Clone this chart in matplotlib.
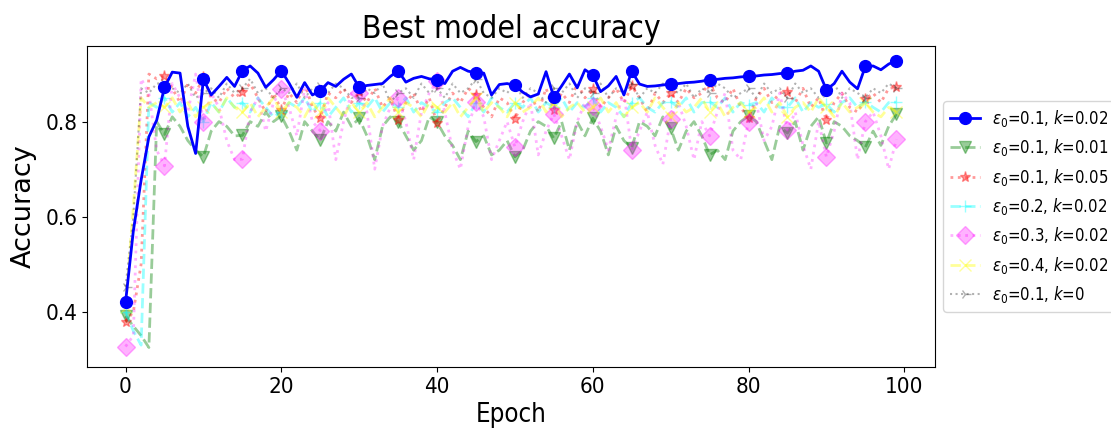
import matplotlib
matplotlib.use("Agg")
import matplotlib.pyplot as plt
import numpy as np

epochs = list(range(100))

blue = [0.420, 0.57, 0.677, 0.768, 0.803, 0.872, 0.904, 0.902, 0.790, 0.733,
        0.889, 0.856, 0.874, 0.893, 0.874, 0.907, 0.917, 0.902, 0.872, 0.888,
        0.907, 0.881, 0.851, 0.882, 0.856, 0.865, 0.882, 0.874, 0.889, 0.900,
        0.872, 0.876, 0.878, 0.880, 0.895, 0.907, 0.883, 0.891, 0.895, 0.890,
        0.888, 0.880, 0.906, 0.914, 0.906, 0.903, 0.902, 0.856, 0.878, 0.880,
        0.876, 0.862, 0.852, 0.858, 0.905, 0.851, 0.875, 0.900, 0.871, 0.909,
        0.898, 0.863, 0.875, 0.895, 0.856, 0.906, 0.879, 0.874, 0.875, 0.877,
        0.879, 0.880, 0.882, 0.883, 0.885, 0.888, 0.889, 0.891, 0.892, 0.894,
        0.895, 0.896, 0.898, 0.899, 0.901, 0.902, 0.906, 0.908, 0.917, 0.906,
        0.867, 0.880, 0.906, 0.883, 0.869, 0.916, 0.917, 0.909, 0.921, 0.928]

green = [0.391, 0.37, 0.35, 0.325, 0.80, 0.773, 0.81, 0.79, 0.76, 0.74,
         0.726, 0.78, 0.80, 0.79, 0.77, 0.771, 0.80, 0.79, 0.82, 0.80,
         0.812, 0.78, 0.74, 0.80, 0.78, 0.761, 0.80, 0.78, 0.82, 0.79,
         0.807, 0.77, 0.72, 0.79, 0.81, 0.800, 0.77, 0.74, 0.76, 0.81,
         0.799, 0.77, 0.75, 0.72, 0.78, 0.758, 0.77, 0.73, 0.74, 0.76,
         0.726, 0.74, 0.78, 0.80, 0.79, 0.765, 0.80, 0.74, 0.80, 0.77,
         0.807, 0.78, 0.73, 0.79, 0.76, 0.745, 0.80, 0.79, 0.77, 0.81,
         0.786, 0.74, 0.78, 0.80, 0.77, 0.730, 0.74, 0.72, 0.78, 0.80,
         0.812, 0.80, 0.76, 0.72, 0.79, 0.776, 0.80, 0.74, 0.79, 0.81,
         0.755, 0.80, 0.79, 0.77, 0.76, 0.746, 0.78, 0.75, 0.79, 0.816]

red = [0.379, 0.40, 0.50, 0.90, 0.89, 0.896, 0.87, 0.84, 0.88, 0.86,
       0.893, 0.85, 0.84, 0.87, 0.85, 0.863, 0.88, 0.85, 0.82, 0.86,
       0.825, 0.86, 0.84, 0.88, 0.83, 0.807, 0.86, 0.85, 0.87, 0.84,
       0.863, 0.84, 0.87, 0.83, 0.85, 0.803, 0.84, 0.86, 0.82, 0.85,
       0.797, 0.83, 0.86, 0.84, 0.87, 0.856, 0.83, 0.81, 0.85, 0.84,
       0.805, 0.84, 0.86, 0.82, 0.87, 0.825, 0.86, 0.84, 0.88, 0.85,
       0.868, 0.83, 0.85, 0.87, 0.84, 0.875, 0.85, 0.82, 0.86, 0.84,
       0.860, 0.84, 0.87, 0.85, 0.86, 0.880, 0.85, 0.84, 0.87, 0.83,
       0.807, 0.85, 0.87, 0.84, 0.86, 0.863, 0.84, 0.87, 0.83, 0.85,
       0.803, 0.84, 0.86, 0.83, 0.82, 0.847, 0.86, 0.84, 0.87, 0.872]

cyan = [0.40, 0.36, 0.33, 0.84, 0.83, 0.85, 0.82, 0.84, 0.81, 0.83,
        0.80, 0.84, 0.82, 0.85, 0.83, 0.84, 0.82, 0.85, 0.83, 0.81,
        0.82, 0.84, 0.83, 0.85, 0.82, 0.84, 0.81, 0.83, 0.85, 0.82,
        0.84, 0.83, 0.85, 0.82, 0.84, 0.83, 0.85, 0.82, 0.84, 0.83,
        0.82, 0.84, 0.85, 0.83, 0.81, 0.84, 0.82, 0.85, 0.83, 0.82,
        0.84, 0.83, 0.85, 0.82, 0.84, 0.83, 0.85, 0.82, 0.84, 0.83,
        0.85, 0.82, 0.84, 0.83, 0.81, 0.84, 0.85, 0.83, 0.82, 0.84,
        0.842, 0.83, 0.85, 0.82, 0.84, 0.842, 0.83, 0.85, 0.82, 0.84,
        0.835, 0.84, 0.82, 0.85, 0.83, 0.83, 0.85, 0.82, 0.84, 0.83,
        0.837, 0.82, 0.84, 0.85, 0.83, 0.842, 0.83, 0.82, 0.84, 0.841]

pink = [0.327, 0.35, 0.89, 0.86, 0.74, 0.707, 0.88, 0.85, 0.82, 0.90,
        0.800, 0.86, 0.83, 0.76, 0.72, 0.721, 0.82, 0.85, 0.78, 0.84,
        0.868, 0.83, 0.77, 0.87, 0.80, 0.781, 0.84, 0.72, 0.80, 0.86,
        0.860, 0.82, 0.70, 0.79, 0.83, 0.849, 0.80, 0.72, 0.82, 0.86,
        0.885, 0.82, 0.74, 0.70, 0.79, 0.842, 0.81, 0.72, 0.76, 0.80,
        0.747, 0.80, 0.84, 0.73, 0.78, 0.816, 0.77, 0.72, 0.80, 0.84,
        0.832, 0.79, 0.74, 0.81, 0.86, 0.740, 0.78, 0.82, 0.75, 0.71,
        0.806, 0.84, 0.79, 0.72, 0.80, 0.770, 0.82, 0.86, 0.74, 0.72,
        0.800, 0.84, 0.76, 0.79, 0.86, 0.782, 0.82, 0.75, 0.70, 0.80,
        0.726, 0.78, 0.86, 0.84, 0.72, 0.800, 0.82, 0.77, 0.70, 0.763]

yellow = [0.41, 0.62, 0.85, 0.83, 0.84, 0.83, 0.85, 0.82, 0.84, 0.81,
          0.83, 0.84, 0.82, 0.85, 0.83, 0.82, 0.84, 0.81, 0.83, 0.85,
          0.82, 0.84, 0.83, 0.81, 0.84, 0.82, 0.85, 0.83, 0.81, 0.84,
          0.82, 0.84, 0.81, 0.83, 0.85, 0.82, 0.84, 0.83, 0.81, 0.84,
          0.83, 0.82, 0.84, 0.81, 0.83, 0.85, 0.82, 0.84, 0.83, 0.81,
          0.84, 0.82, 0.83, 0.85, 0.82, 0.84, 0.81, 0.83, 0.84, 0.82,
          0.83, 0.85, 0.82, 0.84, 0.81, 0.83, 0.84, 0.82, 0.85, 0.83,
          0.81, 0.84, 0.82, 0.83, 0.85, 0.82, 0.84, 0.81, 0.83, 0.84,
          0.82, 0.83, 0.85, 0.82, 0.84, 0.81, 0.83, 0.84, 0.82, 0.85,
          0.83, 0.81, 0.84, 0.82, 0.83, 0.84, 0.82, 0.81, 0.83, 0.82]

gray = [0.453, 0.60, 0.87, 0.86, 0.88, 0.881, 0.87, 0.86, 0.88, 0.85,
        0.86, 0.87, 0.85, 0.88, 0.86, 0.87, 0.89, 0.86, 0.87, 0.85,
        0.87, 0.86, 0.88, 0.85, 0.87, 0.875, 0.86, 0.88, 0.87, 0.85,
        0.85, 0.87, 0.86, 0.88, 0.84, 0.86, 0.87, 0.85, 0.88, 0.86,
        0.87, 0.85, 0.88, 0.86, 0.87, 0.89, 0.86, 0.85, 0.87, 0.86,
        0.88, 0.85, 0.87, 0.86, 0.84, 0.87, 0.86, 0.88, 0.85, 0.87,
        0.86, 0.88, 0.85, 0.87, 0.86, 0.88, 0.85, 0.87, 0.86, 0.88,
        0.87, 0.86, 0.88, 0.85, 0.87, 0.86, 0.88, 0.87, 0.85, 0.86,
        0.87, 0.85, 0.88, 0.86, 0.87, 0.85, 0.88, 0.86, 0.87, 0.85,
        0.86, 0.88, 0.85, 0.87, 0.86, 0.85, 0.87, 0.86, 0.88, 0.87]

labels = [r"$\epsilon_0$=0.1, $k$=0.02",
          r"$\epsilon_0$=0.1, $k$=0.01",
          r"$\epsilon_0$=0.1, $k$=0.05",
          r"$\epsilon_0$=0.2, $k$=0.02",
          r"$\epsilon_0$=0.3, $k$=0.02",
          r"$\epsilon_0$=0.4, $k$=0.02",
          r"$\epsilon_0$=0.1, $k$=0"]

plt.rcParams["font.family"] = ["DejaVu Sans"]
plt.rcParams["font.stretch"] = "condensed"

mark_idx = list(range(0, 100, 5)) + [99]

fig = plt.figure(figsize=(11.11, 4.41), dpi=100)
ax = fig.add_axes([0.0783, 0.1678, 0.7633, 0.7279])

ax.plot(epochs, blue, color="blue", ls="-", lw=2, marker="o", ms=8.5,
        markevery=mark_idx, label=labels[0], zorder=10)
ax.plot(epochs, green, color="green", ls="--", lw=2, marker="v", ms=8,
        markevery=mark_idx, alpha=0.4, label=labels[1])
ax.plot(epochs, red, color="red", ls=":", lw=2, marker="*", ms=8,
        markevery=mark_idx, alpha=0.4, label=labels[2])
ax.plot(epochs, cyan, color="cyan", ls="--", lw=2, marker="+", ms=8,
        markevery=mark_idx, alpha=0.4, label=labels[3])
ax.plot(epochs, pink, color="magenta", ls=":", lw=2, marker="D", ms=9,
        markevery=mark_idx, alpha=0.3, label=labels[4])
ax.plot(epochs, yellow, color="yellow", ls="--", lw=2, marker="x", ms=8,
        markevery=mark_idx, alpha=0.4, label=labels[5])
ax.plot(epochs, gray, color="black", ls=":", lw=1.5, marker="4", ms=8,
        markevery=mark_idx, alpha=0.3, label=labels[6])

ax.set_xlim(-4.95, 103.95)
ax.set_ylim(0.284, 0.959)
ax.set_xticks([0, 20, 40, 60, 80, 100])
ax.set_yticks([0.4, 0.6, 0.8])
ax.tick_params(labelsize=16)
ax.set_title("Best model accuracy", fontsize=22.8)
ax.set_xlabel("Epoch", fontsize=18.5)
ax.set_ylabel("Accuracy", fontsize=19.5, fontstretch="normal", labelpad=6)

ax.legend(loc="center left", bbox_to_anchor=(1.0, 0.5), fontsize=12,
          handlelength=1.8, handletextpad=0.7, borderpad=0.4, labelspacing=0.5)

fig.savefig("out.png", dpi=100)
